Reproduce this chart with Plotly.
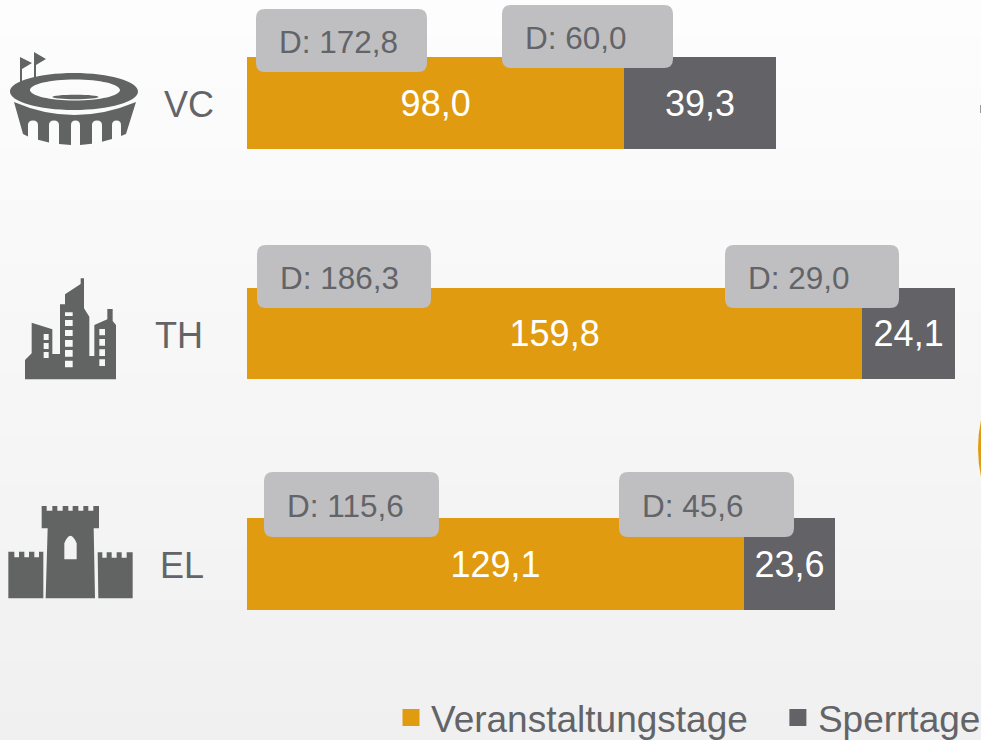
import re
import plotly.graph_objects as go

categories = ["VC", "TH", "EL"]
veranstaltungstage = [98.0, 159.8, 129.1]
sperrtage = [39.3, 24.1, 23.6]
d_veranstaltung = ["D: 172,8", "D: 186,3", "D: 115,6"]
d_sperr = ["D: 60,0", "D: 29,0", "D: 45,6"]

ORANGE = "#E09B10"
DARK = "#636266"
BOX = "#BFBFC1"
TEXT = "#636468"
ICON = "#626463"
# the figure runs a little past the 981x740 window so the legend can sit low and far right
W = 1001
H = 749


def P(s):
    """Turn a path written in pixels into paper coordinates."""
    first = True
    def rep(m):
        nonlocal first
        v = float(m.group(0))
        r = v / W if first else 1 - v / H
        first = not first
        return f"{r:.5f}"
    return re.sub(r"-?\d+(?:\.\d+)?", rep, s)


def poly(points):
    return "M" + "L".join(f"{x:.2f},{y:.2f}" for x, y in points) + "Z"


def ell(cx, cy, rx, ry):
    k = 0.5523
    return (f"M{cx-rx},{cy}C{cx-rx},{cy-k*ry} {cx-k*rx},{cy-ry} {cx},{cy-ry}"
            f"C{cx+k*rx},{cy-ry} {cx+rx},{cy-k*ry} {cx+rx},{cy}"
            f"C{cx+rx},{cy+k*ry} {cx+k*rx},{cy+ry} {cx},{cy+ry}"
            f"C{cx-k*rx},{cy+ry} {cx-rx},{cy+k*ry} {cx-rx},{cy}Z")


def rrect(x0, y0, x1, y1, r=9):
    return (f"M{x0+r},{y0}L{x1-r},{y0}Q{x1},{y0} {x1},{y0+r}L{x1},{y1-r}Q{x1},{y1} {x1-r},{y1}"
            f"L{x0+r},{y1}Q{x0},{y1} {x0},{y1-r}L{x0},{y0+r}Q{x0},{y0} {x0+r},{y0}Z")


def z(points, ox, oy):
    return [(ox + x / 3, oy + y / 3) for x, y in points]


def rect_z(x0, y0, x1, y1, ox, oy):
    return poly(z([(x0, y0), (x1, y0), (x1, y1), (x0, y1)], ox, oy))


def crenel(x0, x1, top, depth, notches):
    pts = [(x0, top)]
    for a, b in notches:
        pts += [(a, top), (a, depth), (b, depth), (b, top)]
    pts.append((x1, top))
    return pts


shapes = []


def add(path, color=ICON, layer="below"):
    shapes.append(dict(type="path", xref="paper", yref="paper", path=P(path),
                       fillcolor=color, line=dict(width=0), layer=layer))


# background gradient
N = 60
for i in range(N):
    t = i / (N - 1)
    v = round(253 - t * 13)
    shapes.append(dict(type="rect", xref="paper", yref="paper", x0=0, x1=1,
                       y0=1 - i / N, y1=1 - (i + 1) / N - 0.001,
                       fillcolor=f"rgb({v},{v},{v})", line=dict(width=0), layer="below"))

# stadium
add(ell(74, 91.5, 64, 18.5) + ell(75, 90, 45, 10.5) + ell(75.5, 97, 23, 2.2))
add(poly([(20, 85), (20, 57), (32, 63), (22, 69), (22, 85)]))
add(poly([(34, 78), (34, 52), (46, 59), (36, 65), (36, 78)]))
arches = [(112, 121), (92, 102), (71, 80), (49, 59), (28, 38)]
body = "M14,102Q74,128 136,102L126,134"
lo = lambda x: 145 - ((x - 74) / 52) ** 2 * 11
for a, b in arches:
    body += f"L{b},{lo(b):.1f}L{b},125Q{b},120.5 {(a+b)/2},120.5Q{a},120.5 {a},125L{a},{lo(a):.1f}"
body += "L23,134Z"
add(body)

# city
ox, oy = 0, 260
city = poly(z([(75, 358), (75, 300), (95, 280), (95, 188), (157, 208), (157, 282), (180, 282),
               (180, 133), (195, 133), (195, 103), (242, 72), (242, 55), (252, 55), (252, 145),
               (268, 170), (268, 288), (283, 288), (283, 195), (322, 178), (322, 147), (338, 147),
               (338, 183), (348, 195), (348, 358)], ox, oy))
for a, b in [(222, 240), (249, 267), (276, 294)]:
    city += rect_z(131, a, 146, b, ox, oy)
for a, b in [(157, 168), (180, 198), (210, 228), (240, 260), (270, 290), (302, 322)]:
    city += rect_z(195, a, 218, b, ox, oy)
for a, b in [(207, 226), (237, 257), (268, 288), (298, 318)]:
    city += rect_z(298, a, 315, b, ox, oy)
add(city)

# castle
tower = (crenel(125, 297, 738, 752, [(140, 157), (172, 188), (205, 218), (235, 250), (265, 280)])
         + [(297, 805), (281, 805), (285, 1015), (137, 1015), (143, 805), (125, 805)])
door = (f"M{193/3},{260+898/3}L{193/3},{260+850/3}Q{211/3},{260+805/3} {230/3},{260+850/3}"
        f"L{230/3},{260+898/3}Z")
add(poly(z(tower, ox, oy)) + door)
add(poly(z(crenel(25, 130, 875, 892, [(43, 57), (73, 87), (103, 117)]) + [(130, 1015), (25, 1015)], ox, oy)))
add(poly(z(crenel(293, 398, 877, 893, [(307, 320), (335, 350), (365, 380)]) + [(398, 1015), (295, 1015)], ox, oy)))

# cropped marks on the right edge of the window
add("M981,420Q975,448 981,477Z", ORANGE)
add("M980,105L981,105L981,113L980,113Z", "#9a9a9a")

# callouts
boxes = [(256, 9, 427, 72), (502, 5, 673, 68), (257, 245, 431, 308),
         (725, 245, 899, 308), (264, 472, 439, 537), (619, 472, 794, 537)]
for b in boxes:
    add(rrect(*b), BOX, layer="above")

annotations = []
labels = [d_veranstaltung[0], d_sperr[0], d_veranstaltung[1], d_sperr[1], d_veranstaltung[2], d_sperr[2]]
for b, t in zip(boxes, labels):
    annotations.append(dict(xref="paper", yref="paper", x=(b[0] + 22) / W, y=1 - ((b[1] + b[3]) / 2 + 1) / H,
                            xanchor="left", yanchor="middle", text=t, showarrow=False,
                            font=dict(size=31.5, color=TEXT), borderpad=0))
for c, (x, y) in zip(categories, [(188.5, 104), (179, 335), (181.5, 565)]):
    annotations.append(dict(xref="paper", yref="paper", x=x / W, y=1 - y / H, text=c, showarrow=False,
                            xanchor="center", yanchor="middle", font=dict(size=36, color=TEXT)))

scale = 3.85
fig = go.Figure()
for name, vals, col in [("Veranstaltungstage", veranstaltungstage, ORANGE), ("Sperrtage", sperrtage, DARK)]:
    fig.add_trace(go.Bar(
        y=list(range(len(categories))), x=vals, orientation="h", name=name, showlegend=False,
        marker=dict(color=col, line=dict(width=0)),
        texttemplate="%{x:.1f}", textposition="inside", insidetextanchor="middle", textangle=0,
        constraintext="none", insidetextfont=dict(size=36, color="white"), hoverinfo="skip"))
for name, col in [("Veranstaltungstage\u00a0\u2009\u2009", ORANGE), ("Sperrtage", DARK)]:
    fig.add_trace(go.Bar(y=[None], x=[None], orientation="h", name=name,
                         marker=dict(color=col, line=dict(width=5, color=col))))

fig.update_layout(
    width=W, height=H, autosize=False, margin=dict(l=0, r=0, t=0, b=0),
    barmode="stack", bargap=0.601, separators=",.",
    paper_bgcolor="#f7f7f7", plot_bgcolor="rgba(0,0,0,0)",
    font=dict(family="Liberation Sans, Arial, sans-serif", color=TEXT),
    xaxis=dict(range=[-247 / scale, (W - 247) / scale], visible=False, fixedrange=True),
    yaxis=dict(range=[(H - 103) / 230.5, -103 / 230.5], visible=False, fixedrange=True),
    shapes=shapes, annotations=annotations,
    legend=dict(orientation="h", x=391 / W, xanchor="left", y=0, yanchor="bottom",
                font=dict(size=37, color=TEXT), bgcolor="rgba(0,0,0,0)", borderwidth=0,
                itemclick=False, itemdoubleclick=False, traceorder="normal"),
)
fig.write_html("out.html", config=dict(displayModeBar=False),
               post_script="document.documentElement.style.margin='0';document.documentElement.style.overflow='hidden';document.body.style.margin='0';document.body.style.overflow='hidden';")
